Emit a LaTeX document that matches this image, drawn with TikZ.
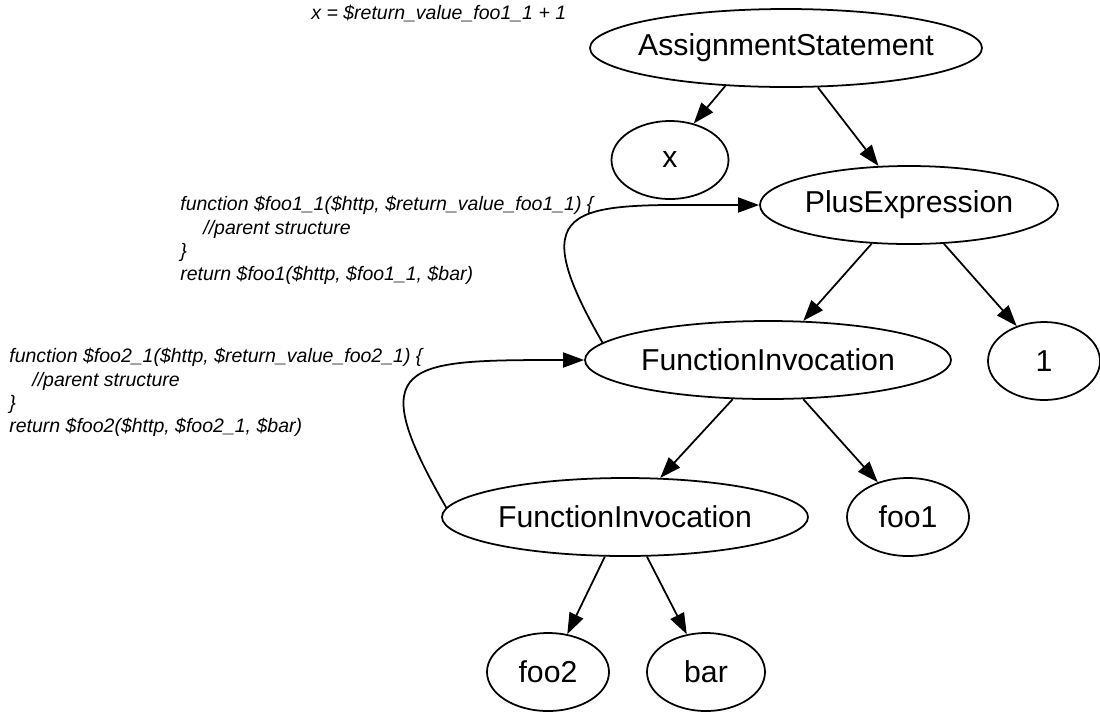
\documentclass[tikz,border=0pt]{standalone}
\usepackage{fontspec}
\setmainfont{Liberation Sans}
\usetikzlibrary{arrows.meta,shapes.geometric}

\begin{document}
\begin{tikzpicture}[
  font=\fontsize{17.2}{20}\selectfont,
  ast/.style={draw, ellipse, line width=1pt, inner sep=0pt, minimum height=1.56cm},
  code/.style={font=\fontsize{11.1}{13.3}\selectfont\itshape, align=left,
               anchor=north west, inner sep=0pt},
  arr/.style={-{Triangle[length=0.42cm,width=0.3cm]}, line width=1pt}
]
\useasboundingbox (0,0) rectangle (22,-14.22);

\node[ast, minimum width=7.84cm, inner xsep=-0.2cm] (assign) at (15.72,-0.96) {AssignmentStatement};
\node[ast, minimum width=2.34cm] (x) at (13.40,-3.20) {x};
\node[ast, minimum width=5.96cm] (plus) at (18.18,-4.10) {PlusExpression};
\node[ast, minimum width=7.32cm, inner xsep=-0.1cm] (fi1) at (15.36,-7.20) {FunctionInvocation};
\node[ast, minimum width=2.24cm] (one) at (20.88,-7.22) {1};
\node[ast, minimum width=7.32cm, inner xsep=-0.1cm] (fi2) at (12.50,-10.34) {FunctionInvocation};
\node[ast, minimum width=2.44cm] (foo1) at (18.16,-10.34) {foo1};
\node[ast, minimum width=2.44cm] (foo2) at (10.96,-13.44) {foo2};
\node[ast, minimum width=2.36cm] (bar) at (14.12,-13.44) {bar};

\node[code] (lblassign) at (6.22,-0.10) {x = \$return\_value\_foo1\_1 + 1};
\node[code] (lblfoo1) at (3.60,-3.92)
  {function \$foo1\_1(\$http, \$return\_value\_foo1\_1) \{\\
   \hspace*{0.46cm}//parent structure\\
   \}\\
   return \$foo1(\$http, \$foo1\_1, \$bar)};
\node[code] (lblfoo2) at (0.18,-6.96)
  {function \$foo2\_1(\$http, \$return\_value\_foo2\_1) \{\\
   \hspace*{0.46cm}//parent structure\\
   \}\\
   return \$foo2(\$http, \$foo2\_1, \$bar)};

\draw[arr] (assign.212) -- (x.57);
\draw[arr] (assign.309) -- (plus.128);
\draw[arr] (plus.226) -- (fi1.48);
\draw[arr] (plus.312) -- (one.128);
\draw[arr] (fi1.228) -- (fi2.48);
\draw[arr] (fi1.312) -- (foo1.131);
\draw[arr] (fi2.243) -- (foo2.63);
\draw[arr] (fi2.299) -- (bar.117);

\draw[arr] (fi1.174) to[out=120, in=180, out distance=3.4cm, in distance=3.6cm] (plus.west);
\draw[arr] (fi2.177) to[out=120, in=180, out distance=3.4cm, in distance=3.6cm] (fi1.west);

\end{tikzpicture}
\end{document}
